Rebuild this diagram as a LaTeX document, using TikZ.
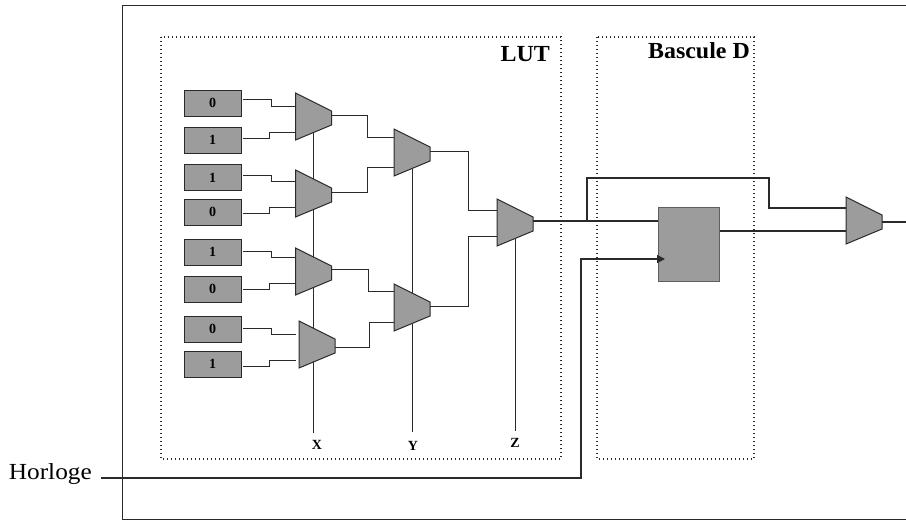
\documentclass[tikz,border=0pt]{standalone}
\usepackage{fontspec}
\setmainfont{Liberation Serif}
\newfontfamily\widefont[FakeStretch=1.1]{Liberation Serif}
\newfontfamily\widebold[FakeStretch=1.04,BoldFont={Liberation Serif Bold}]{Liberation Serif Bold}
\usetikzlibrary{arrows.meta,backgrounds}
\definecolor{muxgray}{HTML}{9B9C9B}
\definecolor{ink}{HTML}{2A2A2A}
\tikzset{
  wire/.style={draw=ink,line width=0.9pt},
  midwire/.style={draw=ink,line width=1.2pt},
  heavywire/.style={draw=ink,line width=1.5pt},
  selectline/.style={draw=ink,line width=1pt},
  frameline/.style={draw=ink,line width=1pt},
  dotbox/.style={draw=ink,line width=1.2pt,dash pattern=on 1.2pt off 2.8pt},
  bitbox/.style={draw=ink,line width=0.9pt,fill=muxgray,inner sep=0pt,font=\bfseries\fontsize{14}{14}\selectfont},
  muxshape/.style={draw=ink,line width=1pt,fill=muxgray},
  anchorbox/.style={inner sep=0pt,minimum width=36pt,minimum height=47pt},
  title/.style={inner sep=0pt,font=\widebold\fontsize{23}{23}\selectfont},
  sel/.style={inner sep=0pt,font=\bfseries\fontsize{14}{14}\selectfont}
}
% name, left x, top y
\newcommand{\muxat}[3]{%
  \pgfmathsetmacro{\mxr}{#2+36}\pgfmathsetmacro{\mxc}{#2+18}\pgfmathsetmacro{\myc}{#3+23.5}%
  \pgfmathsetmacro{\myb}{#3+47}\pgfmathsetmacro{\myrt}{#3+18}\pgfmathsetmacro{\myrb}{#3+32}%
  \pgfmathsetmacro{\mys}{#3+39.5}%
  \filldraw[muxshape] (#2,#3) -- (\mxr,\myrt) -- (\mxr,\myrb) -- (#2,\myb) -- cycle;
  \node[anchorbox] (#1) at (\mxc,\myc) {};
  \coordinate (#1-s) at (\mxc,\mys);
}
% name, top y, text, wire start y
\newcommand{\bitat}[4]{%
  \node[bitbox,minimum width=57pt,minimum height=26pt] (#1) at (212.5,#2+13) {#3};
  \coordinate (#1-o) at (243,#4);
}
% from, to, mid x, entry y
\newcommand{\bitwire}[4]{\draw[wire] (#1-o) -| (#3,#4) -- (#2.west |- 0,#4);}
\newcommand{\stagewire}[5]{\draw[wire] (#1.east |- 0,#4) -| (#3,#5) -- (#2.west |- 0,#5);}
\begin{document}
\begin{tikzpicture}[x=1pt,y=-1pt]
\useasboundingbox (0,0) rectangle (906,520);
% frame and dotted zones
\coordinate (frTR) at (906,5.5);
\coordinate (frTL) at (122,5.5);
\coordinate (frBL) at (122,519);
\coordinate (frBR) at (906,519);
\draw[frameline] (frTR) -- (frTL) -- (frBL) -- (frBR);
\draw[dotbox] (161,37) rectangle (561,459);
\draw[dotbox] (597,37) rectangle (754,459);
\node[title,anchor=east] (lut) at (550,54) {LUT};
\node[title,anchor=east] (bascule) at (750,51) {Bascule D};
% muxes
\muxat{m1}{295.5}{93}
\muxat{m2}{295.5}{170}
\muxat{m3}{295.5}{248}
\muxat{m4}{299}{321}
\muxat{m5}{394}{129}
\muxat{m6}{394}{284}
\muxat{m7}{497}{199}
\muxat{m8}{846}{197}
% bit boxes
\bitat{b1}{90}{0}{99}
\bitat{b2}{127}{1}{138}
\bitat{b3}{164.5}{1}{175}
\bitat{b4}{199}{0}{213}
\bitat{b5}{239}{1}{251}
\bitat{b6}{276}{0}{289}
\bitat{b7}{316}{0}{328}
\bitat{b8}{351}{1}{366}
% select lines, behind the muxes
\node[sel] (lx) at (317,445) {X};
\node[sel] (ly) at (413,446) {Y};
\node[sel] (lz) at (515,443) {Z};
\coordinate (xend) at (313.5,433);
\coordinate (yend) at (412,432);
\coordinate (zend) at (515,431);
\begin{scope}[on background layer]
  \draw[selectline] (m1-s) -- (xend);
  \draw[selectline] (m5-s) -- (yend);
  \draw[selectline] (m7-s) -- (zend);
\end{scope}
% input wires
\bitwire{b1}{m1}{271}{106}
\bitwire{b2}{m1}{269}{132}
\bitwire{b3}{m2}{271}{181}
\bitwire{b4}{m2}{269}{207}
\bitwire{b5}{m3}{271}{257}
\bitwire{b6}{m3}{269}{283}
\coordinate (m4ia) at (296,334);
\coordinate (m4ib) at (296,360);
\draw[wire] (b7-o) -| (271,334) -- (m4ia);
\draw[wire] (b8-o) -| (269,360) -- (m4ib);
% stage wires
\stagewire{m1}{m5}{367}{115}{137}
\stagewire{m2}{m5}{367}{192}{167}
\stagewire{m3}{m6}{368}{269}{291}
\stagewire{m4}{m6}{369}{347}{322}
\stagewire{m5}{m7}{468}{151}{210}
\stagewire{m6}{m7}{468}{306}{236}
% flip-flop
\node[draw=ink!75,line width=1pt,fill=muxgray,inner sep=0pt,minimum width=61pt,minimum height=74pt] (ff) at (688.5,244) {};
\draw[midwire] (m7.east |- 0,221) -- (ff.west |- 0,221);
\draw[heavywire] (587,221) |- (769,178) |- (m8.west |- 0,208);
\draw[midwire] (ff.east |- 0,231) -- (m8.west |- 0,231);
\coordinate (out) at (906,222);
\draw[midwire] (m8.east |- 0,222) -- (out);
% clock
\node[anchor=east,inner sep=0pt,font=\widefont\fontsize{23}{23}\selectfont] (hor) at (92,474) {Horloge};
\coordinate (clkin) at (101,478);
\coordinate (clktip) at (665,259);
\draw[heavywire,-{Triangle[length=8pt,width=8pt]}] (clkin) -| (581,259) -- (clktip);
\end{tikzpicture}
\end{document}
